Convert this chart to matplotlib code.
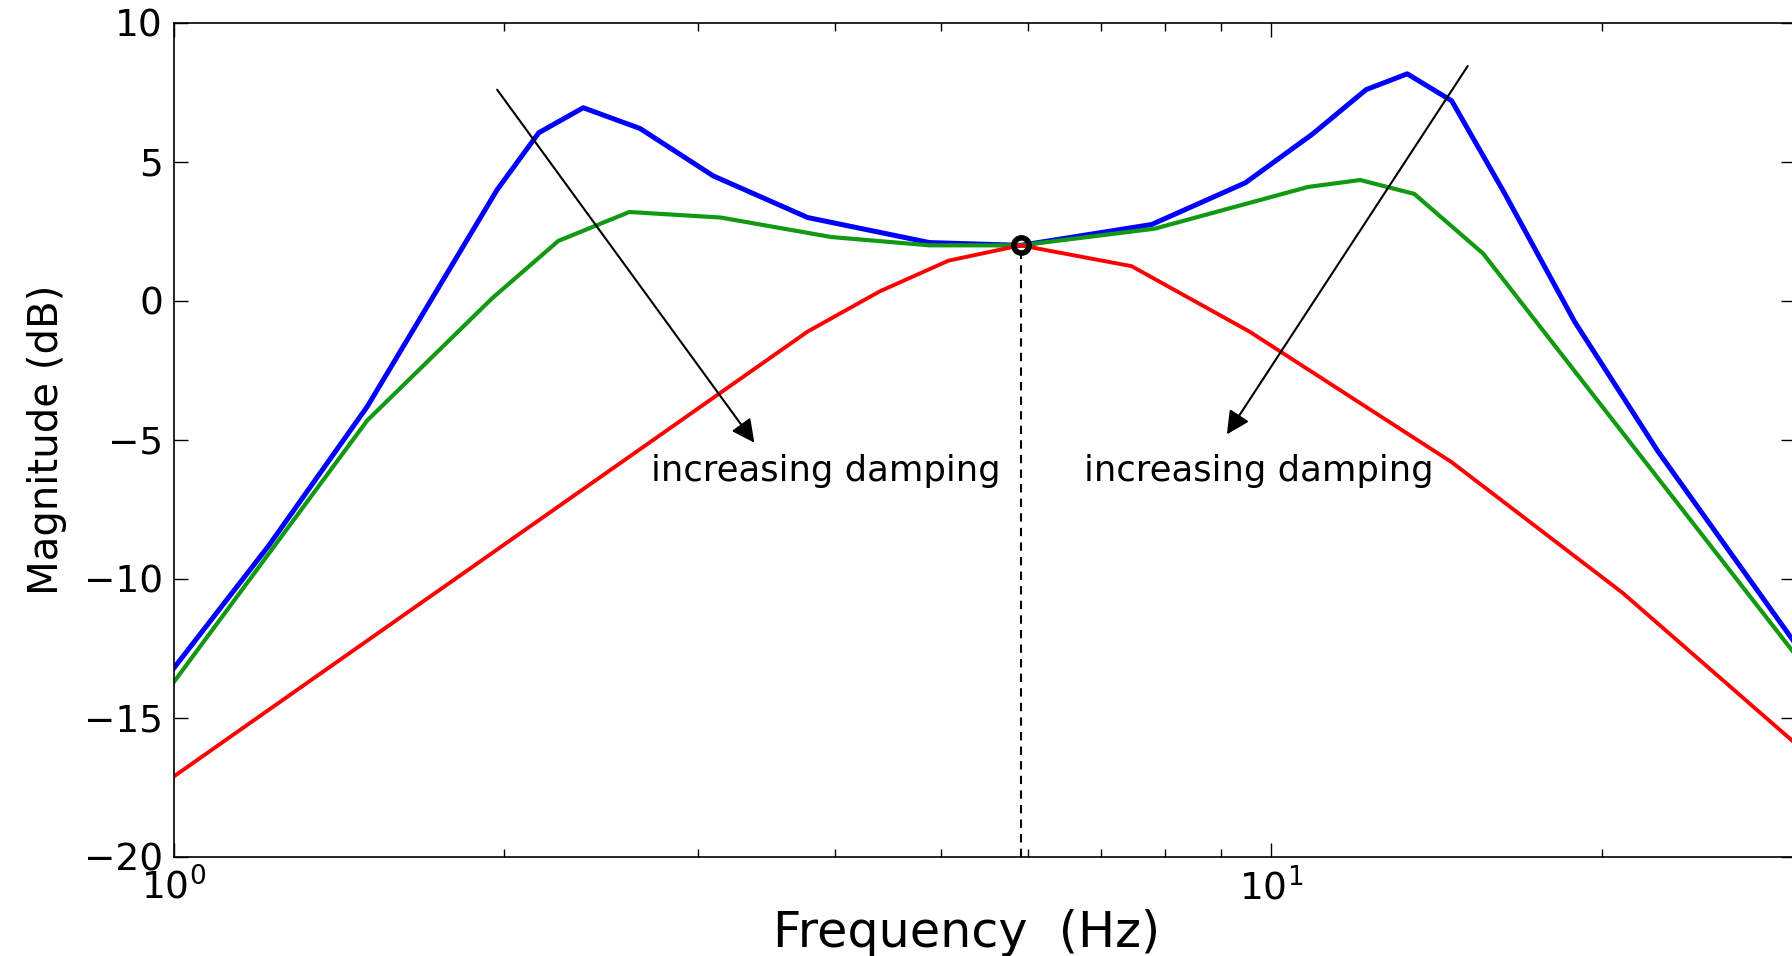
import matplotlib
matplotlib.use('Agg')
import matplotlib.pyplot as plt
import numpy as np

# underdamped / medium / heavily damped responses
f_blue = [1.0, 1.22, 1.5, 1.97, 2.15, 2.36, 2.66, 3.10, 3.78, 4.88, 5.91,
          7.78, 9.47, 10.9, 12.2, 13.3, 14.6, 16.3, 18.9, 22.5, 30.0]
db_blue = [-13.2, -8.8, -3.8, 4.0, 6.05, 6.95, 6.2, 4.5, 3.0, 2.1, 2.0,
           2.75, 4.25, 6.0, 7.6, 8.17, 7.2, 3.9, -0.75, -5.4, -12.3]

f_green = [1.0, 1.5, 1.95, 2.24, 2.60, 3.15, 3.97, 4.88, 5.91,
           7.83, 10.8, 12.05, 13.5, 15.6, 30.0]
db_green = [-13.7, -4.3, 0.1, 2.16, 3.2, 3.0, 2.3, 2.0, 2.0,
            2.6, 4.1, 4.35, 3.85, 1.7, -12.7]

f_red = [1.0, 3.78, 4.40, 5.08, 5.91, 7.46, 9.55, 14.6, 20.9, 30.0]
db_red = [-17.1, -1.1, 0.35, 1.45, 2.0, 1.25, -1.1, -5.8, -10.5, -15.9]

f_cross = 5.91
db_cross = 2.0

arrow_left = ((1.97, 7.6), (3.38, -5.1))
arrow_right = ((15.1, 8.45), (9.11, -4.8))
label_left = (2.72, -6.1)
label_right = (6.75, -6.1)

fig = plt.figure(figsize=(17.92, 9.56), dpi=100)
ax = fig.add_axes([0.0971, 0.1036, 0.9045, 0.8724])

ax.plot(f_blue, db_blue, color='#0000ff', lw=3.6)
ax.plot(f_green, db_green, color='#119911', lw=3.0)
ax.plot(f_red, db_red, color='#ff0000', lw=2.8)

ax.plot([f_cross, f_cross], [-20, db_cross], color='black', ls=(0, (4, 3)), lw=1.5)
ax.plot(f_cross, db_cross, 'o', mfc='none', mec='black', mew=4, ms=11)

for (x0, y0), (x1, y1) in (arrow_left, arrow_right):
    ax.annotate('', xy=(x1, y1), xytext=(x0, y0),
                arrowprops=dict(arrowstyle='-|>', color='black', lw=1.5,
                                mutation_scale=35, shrinkA=0, shrinkB=0))

ax.text(label_left[0], label_left[1], 'increasing damping', fontsize=25.5,
        va='center', ha='left')
ax.text(label_right[0], label_right[1], 'increasing damping', fontsize=25.5,
        va='center', ha='left')

ax.set_xscale('log')
ax.set_xlim(1, 30)
ax.set_ylim(-20, 10)
ax.set_yticks(np.arange(-20, 11, 5))
ax.set_xticks([1, 10])

ax.tick_params(which='both', direction='in', top=True, right=True)
ax.tick_params(which='major', length=10, width=1, labelsize=27, pad=8)
ax.tick_params(which='minor', length=6, width=1)
for s in ax.spines.values():
    s.set_linewidth(1.2)

ax.set_xlabel('Frequency  (Hz)', fontsize=35.5)
ax.xaxis.set_label_coords(0.489, -0.062)
ax.set_ylabel('Magnitude (dB)', fontsize=29, labelpad=12)

fig.savefig('out.png', dpi=100)
